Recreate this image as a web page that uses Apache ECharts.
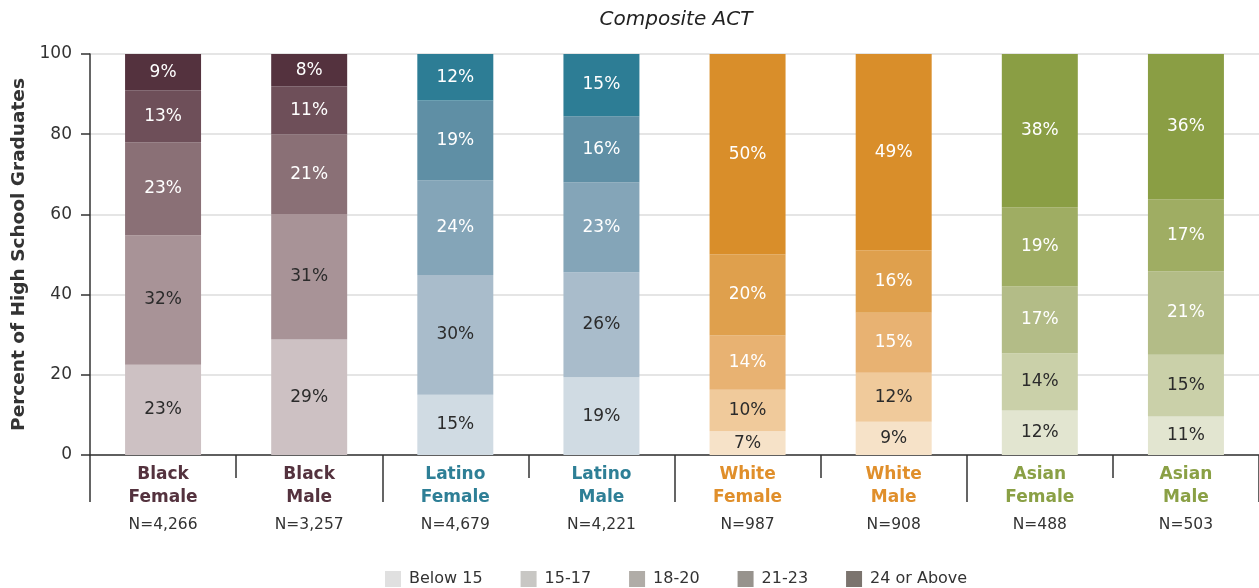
<!DOCTYPE html>
<html>
<head>
<meta charset="utf-8">
<script src="https://cdn.jsdelivr.net/npm/echarts@6/dist/echarts.min.js"></script>
<style>
  html, body { margin: 0; padding: 0; background: #fff; }
  #chart { width: 1259px; height: 588px; }
</style>
</head>
<body>
<div id="chart"></div>
<script>
// categories (two lines) and sample sizes
const groups = ['Black', 'Black', 'Latino', 'Latino', 'White', 'White', 'Asian', 'Asian']
const genders = ['Female', 'Male', 'Female', 'Male', 'Female', 'Male', 'Female', 'Male']
const nCounts = ['4,266', '3,257', '4,679', '4,221', '987', '908', '488', '503']
const raceGroups = ['Black', 'Latino', 'White', 'Asian']

// score bands (legend)
const bands = ['Below 15', '15-17', '18-20', '21-23', '24 or Above']

// segment heights (percent)
const below15 = [22.5, 28.8, 15.0, 19.4, 5.9, 8.3, 11.1, 9.6]
const s15to17 = [32.3, 31.3, 29.9, 26.2, 10.4, 12.2, 14.3, 15.4]
const s18to20 = [23.1, 19.8, 23.6, 22.4, 13.5, 15.0, 16.6, 20.8]
const s21to23 = [13.0, 12.0, 19.9, 16.5, 20.2, 15.5, 19.8, 18.0]
const s24up = [9.1, 8.1, 11.6, 15.5, 50.0, 49.0, 38.2, 36.2]

// printed labels (percent)
const lbBelow15 = [23, 29, 15, 19, 7, 9, 12, 11]
const lb15to17 = [32, 31, 30, 26, 10, 12, 14, 15]
const lb18to20 = [23, 21, 24, 23, 14, 15, 17, 21]
const lb21to23 = [13, 11, 19, 16, 20, 16, 19, 17]
const lb24up = [9, 8, 12, 15, 50, 49, 38, 36]

const heights = [below15, s15to17, s18to20, s21to23, s24up]
const labels = [lbBelow15, lb15to17, lb18to20, lb21to23, lb24up]

// colours: per race, from lightest (Below 15) to darkest (24+)
const raceColors = {
  Black: ['#cdc1c3', '#a89397', '#8a7076', '#6e4f59', '#54323e'],
  Latino: ['#d0dbe3', '#a9bccb', '#84a5b8', '#5f8fa5', '#2d7d95'],
  White: ['#f6e2c8', '#f0ca9b', '#e8b272', '#dfa04d', '#d98e2a'],
  Asian: ['#e2e5d0', '#cad0a9', '#b3bc87', '#9fad63', '#8a9e44'],
}
const raceText = { Black: '#54323e', Latino: '#2e7f96', White: '#e08f2b', Asian: '#8aa045' }
const legendGrays = ['#e0e0e0', '#c8c7c4', '#b0aca7', '#97938d', '#7b746e']

const FONT = '"DejaVu Sans", "Noto Sans", sans-serif'

const chart = echarts.init(document.getElementById('chart'))

const series = bands.map((band, b) => ({
  name: band,
  type: 'bar',
  stack: 'all',
  barWidth: '52%',
  itemStyle: { color: legendGrays[b] },
  label: {
    show: true,
    position: 'inside',
    fontFamily: FONT,
    fontSize: 17,
    color: b >= 2 ? '#ffffff' : '#2b2b2b',
    formatter: (p) => labels[b][p.dataIndex] + '%',
  },
  data: heights[b].map((v, i) => ({
    value: v,
    itemStyle: { color: raceColors[groups[i]][b] },
  })),
}))

const rich = { n: { fontFamily: FONT, fontSize: 15.5, color: '#333', lineHeight: 28, padding: [4, 0, 0, 0] } }
raceGroups.forEach((g) => {
  rich[g] = { fontFamily: FONT, fontSize: 17, fontWeight: 'bold', color: raceText[g], lineHeight: 23 }
})

const option = {
  animation: false,
  title: {
    text: 'Composite ACT',
    left: 671,
    textAlign: 'center',
    top: 5,
    textStyle: { fontFamily: FONT, fontSize: 20, fontStyle: 'italic', fontWeight: 'normal', color: '#222' },
  },
  legend: {
    data: bands,
    top: 566,
    left: 380,
    icon: 'rect',
    itemWidth: 16,
    itemHeight: 16,
    itemGap: 38,
    textStyle: { fontFamily: FONT, fontSize: 16, color: '#333', padding: [0, 0, 0, 3] },
  },
  grid: { left: 90, right: 0, top: 54, bottom: 133, outerBoundsMode: 'none' },
  xAxis: [
    {
      type: 'category',
      data: groups.map((g, i) => i),
      axisLine: { lineStyle: { color: '#333', width: 1.5 } },
      axisTick: { show: true, length: 23, interval: 0, lineStyle: { color: '#333', width: 1.5 } },
      axisLabel: {
        interval: 0,
        margin: 8,
        formatter: (v, i) => `{${groups[i]}|${groups[i]}}\n{${groups[i]}|${genders[i]}}\n{n|N=${nCounts[i]}}`,
        rich: rich,
      },
    },
    {
      type: 'category',
      position: 'bottom',
      data: raceGroups,
      axisLine: { show: false },
      axisTick: { show: true, length: 47, interval: 0, lineStyle: { color: '#333', width: 1.5 } },
      axisLabel: { show: false },
    },
  ],
  yAxis: {
    type: 'value',
    min: 0,
    max: 100,
    interval: 20,
    name: 'Percent of High School Graduates',
    nameLocation: 'middle',
    nameGap: 58,
    nameTextStyle: { fontFamily: FONT, fontSize: 18.5, fontWeight: 'bold', color: '#333' },
    axisLine: { show: true, lineStyle: { color: '#333', width: 1.5 } },
    axisTick: { show: true, length: 9, lineStyle: { color: '#333', width: 1.5 } },
    axisLabel: { fontFamily: FONT, fontSize: 17, color: '#333', margin: 18 },
    splitLine: { lineStyle: { color: '#dcdcdc', width: 1.5 } },
  },
  series: series,
}

chart.setOption(option)
</script>
</body>
</html>
